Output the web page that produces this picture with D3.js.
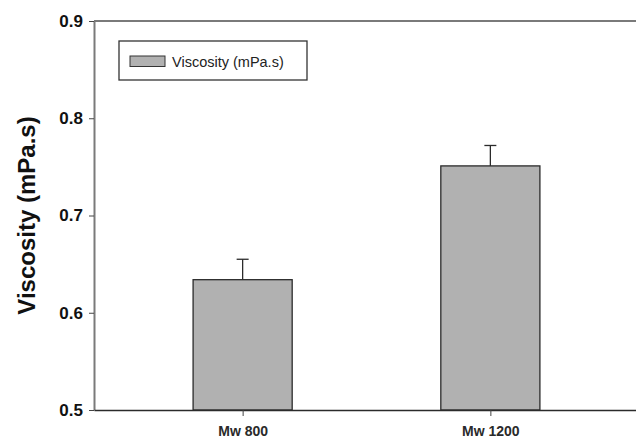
<!DOCTYPE html>
<html>
<head>
<meta charset="utf-8">
<script src="https://cdn.jsdelivr.net/npm/d3@7"></script>
<style>
  body { margin: 0; background: #fff; }
  svg { display: block; font-family: "Liberation Sans", Arial, sans-serif; }
</style>
</head>
<body>
<div id="chart"></div>
<script>
// data
const categories = ["Mw 800", "Mw 1200"];
const values = [0.634, 0.751];
const errors = [0.021, 0.021];
const yTicks = [0.5, 0.6, 0.7, 0.8, 0.9];
const seriesName = "Viscosity (mPa.s)";
const yTitle = "Viscosity (mPa.s)";

const W = 636, H = 440;
const plotL = 94, plotR = 639, plotT = 21, plotB = 410;

const svg = d3.select("#chart").append("svg")
  .attr("width", W)
  .attr("height", H);

const x = d3.scalePoint()
  .domain(categories)
  .range([plotL, plotR])
  .padding(0.6);

const y = d3.scaleLinear()
  .domain([0.5, 0.9])
  .range([plotB, plotT]);

const barW = x.step() * 0.4;
const data = categories.map((c, i) => ({ cat: c, v: values[i], e: errors[i] }));

// top frame line
svg.append("line")
  .attr("x1", plotL).attr("x2", W)
  .attr("y1", y(0.9)).attr("y2", y(0.9))
  .attr("stroke", "#7a7a7a")
  .attr("stroke-width", 2);

// bars
svg.selectAll(".bar")
  .data(data)
  .enter().append("rect")
  .attr("class", "bar")
  .attr("x", d => x(d.cat) - barW / 2)
  .attr("y", d => y(d.v))
  .attr("width", barW)
  .attr("height", d => y(0.5) - y(d.v))
  .attr("fill", "#b1b1b1")
  .attr("stroke", "#2b2b2b")
  .attr("stroke-width", 1.3);

// error bars (upper only)
const err = svg.selectAll(".err")
  .data(data)
  .enter().append("g")
  .attr("class", "err")
  .attr("stroke", "#2b2b2b")
  .attr("stroke-width", 1.3);

err.append("line")
  .attr("x1", d => x(d.cat)).attr("x2", d => x(d.cat))
  .attr("y1", d => y(d.v)).attr("y2", d => y(d.v + d.e));

err.append("line")
  .attr("x1", d => x(d.cat) - 6).attr("x2", d => x(d.cat) + 6)
  .attr("y1", d => y(d.v + d.e)).attr("y2", d => y(d.v + d.e));

// y axis
svg.append("g")
  .attr("transform", `translate(${plotL},0)`)
  .call(d3.axisLeft(y).tickValues(yTicks).tickFormat(d3.format(".1f")).tickSize(5).tickSizeOuter(0))
  .call(g => g.select(".domain").attr("stroke", "#7a7a7a").attr("stroke-width", 2))
  .call(g => g.selectAll(".tick line").attr("stroke", "#444").attr("stroke-width", 1))
  .call(g => g.selectAll("text")
    .attr("x", -11)
    .style("font-size", "17px")
    .style("font-weight", "bold")
    .style("fill", "#111"));

// x axis
svg.append("g")
  .attr("transform", `translate(0,${plotB})`)
  .call(d3.axisBottom(x).tickSize(6).tickSizeOuter(0))
  .call(g => g.select(".domain").attr("stroke", "#2b2b2b").attr("stroke-width", 1.5))
  .call(g => g.selectAll(".tick line").attr("stroke", "#444"))
  .call(g => g.selectAll("text")
    .attr("y", 16)
    .style("font-size", "14px")
    .style("font-weight", "bold")
    .style("fill", "#2a2a2a"));

// y axis title
svg.append("text")
  .attr("transform", `translate(35,${(plotT + plotB) / 2}) rotate(-90)`)
  .attr("text-anchor", "middle")
  .style("font-size", "24px")
  .style("font-weight", "bold")
  .style("fill", "#111")
  .text(yTitle);

// legend
const lg = svg.append("g");
lg.append("rect")
  .attr("x", 119).attr("y", 41)
  .attr("width", 188).attr("height", 39)
  .attr("fill", "#fff")
  .attr("stroke", "#333")
  .attr("stroke-width", 1.3);
lg.append("rect")
  .attr("x", 130).attr("y", 56)
  .attr("width", 35).attr("height", 10.5)
  .attr("fill", "#b1b1b1")
  .attr("stroke", "#333")
  .attr("stroke-width", 1);
lg.append("text")
  .attr("x", 172).attr("y", 66.5)
  .style("font-size", "14.5px")
  .style("fill", "#222")
  .text(seriesName);
</script>
</body>
</html>
